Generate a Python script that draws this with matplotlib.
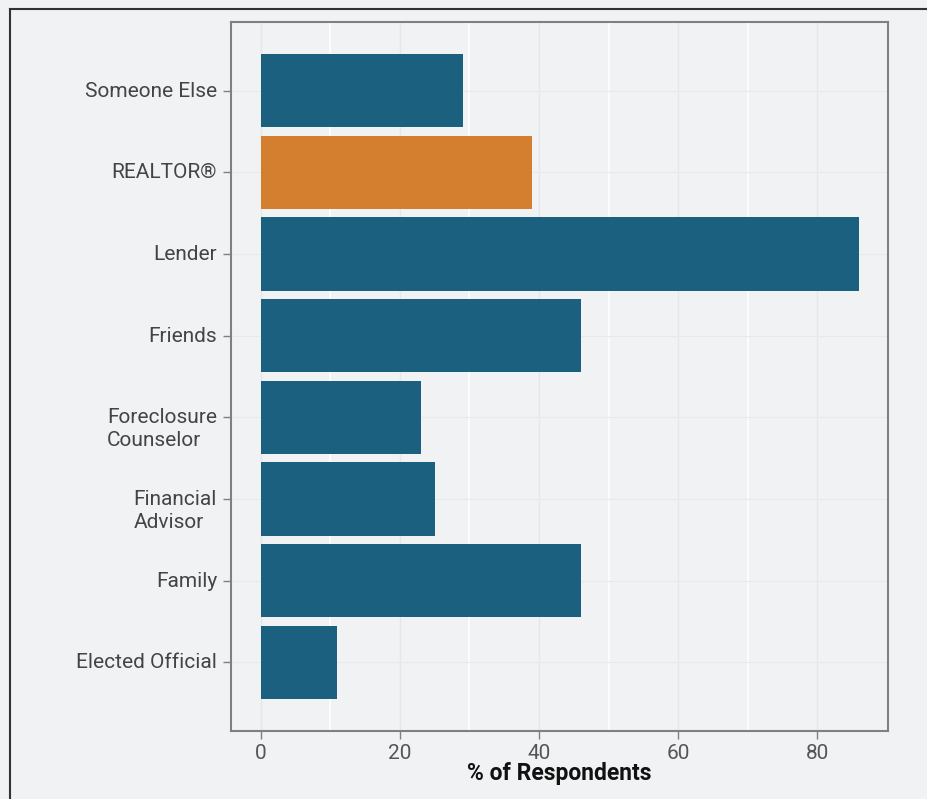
import numpy as np
import matplotlib.pyplot as plt
import matplotlib.transforms as mtransforms
from matplotlib.lines import Line2D

categories = ['Elected Official', 'Family', 'Financial\nAdvisor', 'Foreclosure\nCounselor',
              'Friends', 'Lender', 'REALTOR®', 'Someone Else']
values = [11, 46, 25, 23, 46, 86, 39, 29]
highlight = 'REALTOR®'

blue = '#1b607e'
orange = '#d47f30'
bg = '#f1f2f4'

plt.rcParams['font.family'] = ['Roboto', 'DejaVu Sans']

fig = plt.figure(figsize=(9.28, 7.99), dpi=100, facecolor=bg)
ax = fig.add_axes([231 / 928, 1 - 731 / 799, (888 - 231) / 928, (731 - 22) / 799])
ax.set_facecolor(bg)

y = np.arange(len(categories))
colors = [orange if c == highlight else blue for c in categories]
ax.barh(y, values, height=0.9, color=colors, zorder=3)

ax.set_xlim(-4.3, 90.2)
ax.set_ylim(-0.84, 7.84)
ax.set_xticks([0, 20, 40, 60, 80])
ax.set_xticks(np.arange(10, 90, 20), minor=True)
ax.set_yticks(y)
ax.set_yticklabels([])

# category labels: first line sits on the tick, extra lines hang below
lab_tr = ax.get_yaxis_transform() + mtransforms.ScaledTranslation(-10 / 72, 6.4 / 72,
                                                                   fig.dpi_scale_trans)
for yi, cat in zip(y, categories):
    ax.text(0, yi, cat, transform=lab_tr, ha='right', va='top', multialignment='left',
            fontsize=15, color='#444444', linespacing=1.25, clip_on=False)

ax.tick_params(axis='x', which='major', labelsize=15, labelcolor='#555555', color='#808080',
               length=6, width=1)
ax.tick_params(axis='x', which='minor', length=0)
ax.tick_params(axis='y', color='#808080', length=6, width=1)

ax.grid(axis='x', which='major', color='#e6e7e9', lw=1, zorder=0)
ax.grid(axis='x', which='minor', color='#ffffff', lw=1.2, zorder=0)
ax.grid(axis='y', color='#e8e9eb', lw=0.8, zorder=0)
ax.set_axisbelow(True)

for s in ax.spines.values():
    s.set_color('#808080')
    s.set_linewidth(1.5)

ax.set_xlabel('% of Respondents', fontsize=16.5, fontweight='bold', color='#111111', labelpad=-1)

# outer frame (cropped at right and bottom)
fig.add_artist(Line2D([10 / 928, 1], [1 - 9 / 799, 1 - 9 / 799], color='#333333', lw=1.5,
                      transform=fig.transFigure))
fig.add_artist(Line2D([10 / 928, 10 / 928], [0, 1 - 9 / 799], color='#333333', lw=1.5,
                      transform=fig.transFigure))

fig.savefig('out.png', dpi=100, facecolor=bg)
